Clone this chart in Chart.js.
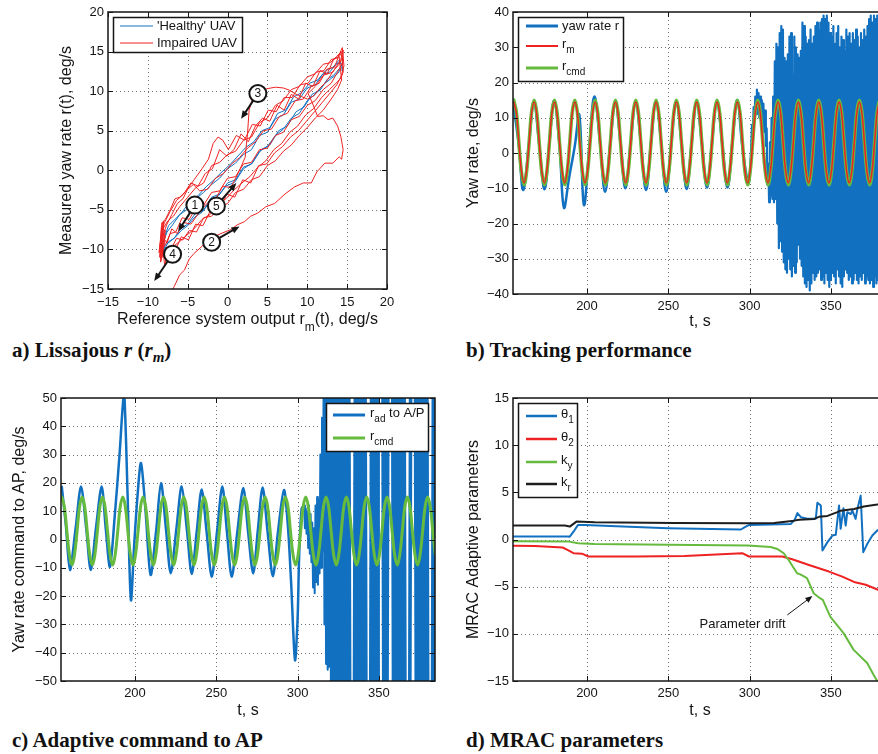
<!DOCTYPE html>
<html>
<head>
<meta charset="utf-8">
<title>Adaptive yaw control</title>
<script src="https://cdn.jsdelivr.net/npm/chart.js@4.4.1/dist/chart.umd.min.js"></script>
<style>
html,body{margin:0;padding:0;background:#fff;overflow:hidden}
#fig{position:relative;width:878px;height:754px;overflow:hidden;background:#fff}
#fig canvas{position:absolute}
.cap{position:absolute;font-family:"Liberation Serif","Times New Roman",serif;font-weight:bold;font-size:21px;line-height:21px;color:#111;white-space:nowrap}
.cap sub{font-size:15px;line-height:0}
</style>
</head>
<body>
<div id="fig">
<canvas id="ca" width="440" height="335" style="left:0;top:0"></canvas>
<canvas id="cb" width="460" height="335" style="left:440px;top:0"></canvas>
<canvas id="cc" width="440" height="345" style="left:0;top:380px"></canvas>
<canvas id="cd" width="460" height="345" style="left:440px;top:380px"></canvas>
<div class="cap" style="left:12px;top:340px">a) Lissajous <i>r</i> (<i>r<sub>m</sub></i>)</div>
<div class="cap" style="left:466px;top:340px">b) Tracking performance</div>
<div class="cap" style="left:12px;top:730px">c) Adaptive command to AP</div>
<div class="cap" style="left:466px;top:730px">d) MRAC parameters</div>
</div>

<script>
var SANS = '"Liberation Sans", Arial, Helvetica, sans-serif';
var INK = '#151515';
var BLUE = '#1270c0', RED = '#ee2222', GREEN = '#66bb3e', BLACK = '#1e1e1e';

// tick values
var lissTicks = [-15, -10, -5, 0, 5, 10, 15, 20];
var timeTicks = [200, 250, 300, 350];
var yawTicks = [-40, -30, -20, -10, 0, 10, 20, 30, 40];
var cmdTicks = [-50, -40, -30, -20, -10, 0, 10, 20, 30, 40, 50];
var parTicks = [-15, -10, -5, 0, 5, 10, 15];

// a) Lissajous: healthy loops
var healthyX = [
  -8.3,-7.8,-7.2,-6.5,-5.8,-5.0,-4.1,-3.2,-2.2,-1.2,-0.2,0.9,2.0,3.1,4.2,5.3,6.4,7.5,8.6,9.6,10.6,11.6,12.5,13.3,14.0,14.5,
  14.2,13.6,12.8,11.9,11.0,10.0,9.0,8.0,7.0,6.0,5.0,4.0,3.0,2.0,1.0,0.0,-1.0,-2.0,-3.0,-4.0,-5.0,-6.0,-6.9,-7.6,-8.1,
  -8.0,-7.4,-6.7,-5.9,-5.0,-4.0,-3.0,-2.0,-1.0,0.0,1.0,2.0,3.0,4.0,5.0,6.0,7.0,8.0,9.0,10.0,11.0,12.0,13.0,13.8,14.4,
  14.0,13.2,12.3,11.3,10.3,9.3,8.3,7.3,6.3,5.3,4.3,3.3,2.3,1.3,0.3,-0.7,-1.7,-2.7,-3.7,-4.7,-5.7,-6.6,-7.4,-8.0,-8.2];
var healthyY = [
  -10.6,-9.4,-9.0,-8.4,-7.6,-7.0,-5.9,-5.3,-4.0,-3.3,-2.0,-1.5,0.2,0.9,2.6,3.2,5.0,5.6,7.4,8.0,9.6,10.1,11.5,12.0,12.8,12.6,
  13.6,13.4,12.4,12.1,10.8,10.4,9.0,8.6,7.0,6.5,4.8,4.4,2.6,2.0,0.9,0.2,-1.0,-1.8,-2.8,-3.6,-4.9,-5.6,-6.9,-7.8,-9.2,
  -10.2,-9.0,-8.6,-7.4,-6.8,-5.4,-5.0,-3.4,-3.0,-1.6,-1.2,0.4,0.8,2.4,3.0,4.4,5.2,6.6,7.2,8.8,9.6,10.8,11.6,12.2,13.1,
  13.9,13.0,12.6,11.4,11.0,9.8,9.3,7.6,7.2,5.4,5.0,3.6,2.9,1.8,0.7,-0.2,-1.2,-2.1,-3.2,-3.9,-5.3,-6.2,-7.0,-8.6,-10.0];

// a) Lissajous: impaired loops, excursions and outer loop
var impairedX = [
  -8.4,-8.0,-7.5,-6.8,-6.0,-5.1,-4.2,-3.2,-2.2,-1.2,-0.2,0.8,1.8,2.8,3.8,4.8,5.8,6.8,7.8,8.8,9.8,10.8,11.8,12.8,13.6,14.2,14.5,
  14.3,13.7,12.9,12.0,11.0,10.0,9.0,8.0,7.0,6.0,5.0,4.0,3.0,2.0,1.0,0.0,-1.0,-2.0,-3.0,-4.0,-5.0,-6.0,-6.8,-7.5,-8.0,-8.3,
  -8.3,-8.5,-8.2,-8.6,-8.1,-8.4,-7.9,-8.3,
  -8.2,-7.9,-7.3,-6.6,-5.8,-4.9,-4.0,-3.1,-2.1,-1.1,-0.1,0.9,1.9,2.9,3.9,4.9,5.9,6.9,7.9,8.9,9.9,10.9,11.9,12.9,13.7,14.3,14.6,
  14.4,13.8,13.0,12.1,11.1,10.1,9.1,8.1,7.1,6.1,5.1,4.1,3.1,2.1,1.1,0.1,-0.6,-1.2,-1.8,-2.4,-3.2,-4.2,-5.2,-6.0,-6.6,-7.2,-7.8,-8.2,
  -8.4,-8.0,-8.5,-7.8,-8.3,
  -8.3,-8.0,-7.6,-7.0,-6.3,-5.5,-4.6,-3.6,-2.6,-1.6,-0.6,0.4,1.4,2.2,2.5,2.7,3.2,4.0,4.9,6.0,7.0,7.8,8.6,9.3,10.0,10.8,11.6,12.4,13.3,14.0,14.4,
  14.1,13.4,12.5,11.5,10.5,9.5,8.5,7.5,6.5,5.5,4.5,3.5,2.5,1.5,0.5,-0.5,-1.5,-2.5,-3.5,-4.3,-5.0,-5.6,-6.3,-7.0,-7.6,-8.2,
  -8.1,-7.7,-7.1,-6.4,-5.6,-4.8,-3.9,-3.0,-2.0,-1.0,0.0,1.0,2.0,3.0,4.0,5.0,6.0,7.0,8.0,9.0,10.0,11.0,12.0,13.0,13.8,14.3,
  14.0,13.3,12.5,11.6,10.7,9.8,8.9,8.0,7.1,6.2,5.3,4.4,3.5,2.6,1.7,0.8,-0.1,-1.0,-1.9,-2.8,-3.7,-4.6,-5.5,-6.4,-7.2,-7.9,
  -8.0,-8.4,-7.8,-8.2,
  -7.8,-7.2,-6.5,-5.7,-4.8,-3.9,-3.0,-2.0,-1.0,0.0,1.0,2.0,3.0,4.0,5.0,6.0,7.0,8.0,9.0,10.0,11.0,12.0,13.0,13.8,14.4,14.5,
  14.2,13.2,12.0,11.0,10.1,10.6,11.3,12.0,12.6,13.2,13.8,14.2,14.5,14.3,14.0,13.2,12.2,11.2,10.5,9.5,8.4,7.2,5.9,4.8,3.8,2.9,2.1,1.2,0.4,-0.6,-1.5,-2.5,-3.2,-4.2,-4.8,-5.4,-6.0,-6.7,-7.2];
var impairedY = [
  -11.5,-10.2,-10.8,-9.6,-9.0,-8.2,-7.4,-6.2,-5.6,-4.3,-3.6,-2.5,-1.6,-0.8,0.4,1.2,2.6,3.4,4.8,5.6,7.0,7.8,9.2,10.2,11.0,11.6,12.4,
  15.0,14.4,13.6,13.4,12.2,11.8,10.6,10.2,8.8,8.2,6.6,6.0,4.2,3.8,2.4,2.0,1.0,0.6,-1.6,-2.2,-3.4,-4.6,-5.8,-6.4,-7.2,-8.6,
  -7.2,-11.0,-6.6,-10.4,-8.0,-11.6,-9.0,-9.8,
  -9.0,-12.0,-9.6,-10.2,-8.4,-8.8,-6.8,-7.0,-5.0,-5.2,-3.0,-3.4,-1.2,-1.6,0.6,0.8,2.2,3.0,4.2,5.0,6.2,7.4,8.6,9.8,10.8,12.0,13.2,
  15.5,14.2,14.0,12.6,12.4,11.0,10.8,9.2,9.2,7.4,7.6,5.6,5.8,3.8,4.4,2.6,3.8,4.2,3.4,1.4,0.2,-1.2,-2.6,-3.4,-3.6,-5.0,-6.2,-6.6,
  -10.8,-6.4,-9.6,-7.6,-10.4,
  -10.0,-8.6,-9.2,-7.4,-8.0,-6.6,-6.8,-5.4,-4.2,-3.8,-2.0,-2.2,-0.2,1.6,4.6,7.6,9.3,10.2,10.3,10.5,10.4,10.1,9.6,9.3,9.0,9.4,10.4,11.2,12.6,13.4,14.2,
  14.8,13.0,12.8,11.0,10.6,9.0,8.8,7.2,6.8,5.2,5.0,3.6,2.8,1.6,0.8,-0.4,-1.0,-2.4,-2.6,-1.8,-2.4,-3.6,-4.2,-5.6,-6.8,-8.4,
  -11.0,-9.8,-10.0,-8.6,-8.8,-7.6,-7.8,-6.0,-5.8,-4.6,-4.2,-2.8,-2.4,-1.2,-0.8,0.6,1.2,2.4,3.2,4.4,5.4,6.6,7.6,9.0,10.2,11.4,
  14.4,14.0,12.2,12.6,10.6,11.0,9.0,9.6,7.6,8.2,6.2,6.6,5.6,3.6,4.6,2.6,1.8,2.6,0.2,-0.4,-2.0,-1.6,-3.0,-3.8,-5.2,-6.6,
  -6.8,-11.2,-8.2,-10.0,
  -9.4,-8.0,-7.8,-6.0,-6.2,-4.6,-4.4,-2.8,-2.6,-1.0,-0.8,0.8,1.0,2.6,2.8,4.4,4.8,6.4,6.8,8.2,8.8,10.2,11.0,12.4,13.6,15.2,
  14.0,12.4,12.0,10.6,9.7,8.6,6.8,6.9,6.4,6.6,5.6,4.3,2.6,1.4,1.7,0.9,0.9,-0.2,-1.6,-1.6,-2.1,-3.0,-4.2,-4.6,-5.4,-5.8,-6.5,-6.9,-7.5,-7.9,-8.3,-8.8,-9.6,-10.5,-11.2,-12.6,-13.2,-14.7,-15.6];

// a) numbered markers and where their arrows point
var markerText = ['1', '2', '3', '4', '5'];
var markerX = [-4.1, -2.0, 3.8, -6.9, -1.4];
var markerY = [-4.4, -9.1, 9.7, -10.6, -4.5];
var arrowX = [-6.2, 1.5, 1.7, -9.2, 1.1];
var arrowY = [-7.7, -7.1, 6.5, -14.0, -1.6];

// r_cmd / r_m sample times (s)
var cmdT = [
  155,156.6,158.1,159.7,161.3,162.8,164.4,165.9, 167.5,169.1,170.6,172.2,173.8,175.3,176.9,178.4,
  180,181.6,183.1,184.7,186.3,187.8,189.4,190.9, 192.5,194.1,195.6,197.2,198.8,200.3,201.9,203.4,
  205,206.6,208.1,209.7,211.3,212.8,214.4,215.9, 217.5,219.1,220.6,222.2,223.8,225.3,226.9,228.4,
  230,231.6,233.1,234.7,236.3,237.8,239.4,240.9, 242.5,244.1,245.6,247.2,248.8,250.3,251.9,253.4,
  255,256.6,258.1,259.7,261.3,262.8,264.4,265.9, 267.5,269.1,270.6,272.2,273.8,275.3,276.9,278.4,
  280,281.6,283.1,284.7,286.3,287.8,289.4,290.9, 292.5,294.1,295.6,297.2,298.8,300.3,301.9,303.4,
  305,306.6,308.1,309.7,311.3,312.8,314.4,315.9, 317.5,319.1,320.6,322.2,323.8,325.3,326.9,328.4,
  330,331.6,333.1,334.7,336.3,337.8,339.4,340.9, 342.5,344.1,345.6,347.2,348.8,350.3,351.9,353.4,
  355,356.6,358.1,359.7,361.3,362.8,364.4,365.9, 367.5,369.1,370.6,372.2,373.8,375.3,376.9,378.4,
  380,381.6,383.1,384.7];
var cmdV = [
  15,11.5,3,-5.5,-9,-5.5,3,11.5, 15,11.5,3,-5.5,-9,-5.5,3,11.5,
  15,11.5,3,-5.5,-9,-5.5,3,11.5, 15,11.5,3,-5.5,-9,-5.5,3,11.5,
  15,11.5,3,-5.5,-9,-5.5,3,11.5, 15,11.5,3,-5.5,-9,-5.5,3,11.5,
  15,11.5,3,-5.5,-9,-5.5,3,11.5, 15,11.5,3,-5.5,-9,-5.5,3,11.5,
  15,11.5,3,-5.5,-9,-5.5,3,11.5, 15,11.5,3,-5.5,-9,-5.5,3,11.5,
  15,11.5,3,-5.5,-9,-5.5,3,11.5, 15,11.5,3,-5.5,-9,-5.5,3,11.5,
  15,11.5,3,-5.5,-9,-5.5,3,11.5, 15,11.5,3,-5.5,-9,-5.5,3,11.5,
  15,11.5,3,-5.5,-9,-5.5,3,11.5, 15,11.5,3,-5.5,-9,-5.5,3,11.5,
  15,11.5,3,-5.5,-9,-5.5,3,11.5, 15,11.5,3,-5.5,-9,-5.5,3,11.5,
  15,11.5,3,-5.5];
var refV = [
  14.5,11.2,3,-5.2,-8.5,-5.2,3,11.2, 14.5,11.2,3,-5.2,-8.5,-5.2,3,11.2,
  14.5,11.2,3,-5.2,-8.5,-5.2,3,11.2, 14.5,11.2,3,-5.2,-8.5,-5.2,3,11.2,
  14.5,11.2,3,-5.2,-8.5,-5.2,3,11.2, 14.5,11.2,3,-5.2,-8.5,-5.2,3,11.2,
  14.5,11.2,3,-5.2,-8.5,-5.2,3,11.2, 14.5,11.2,3,-5.2,-8.5,-5.2,3,11.2,
  14.5,11.2,3,-5.2,-8.5,-5.2,3,11.2, 14.5,11.2,3,-5.2,-8.5,-5.2,3,11.2,
  14.5,11.2,3,-5.2,-8.5,-5.2,3,11.2, 14.5,11.2,3,-5.2,-8.5,-5.2,3,11.2,
  14.5,11.2,3,-5.2,-8.5,-5.2,3,11.2, 14.5,11.2,3,-5.2,-8.5,-5.2,3,11.2,
  14.5,11.2,3,-5.2,-8.5,-5.2,3,11.2, 14.5,11.2,3,-5.2,-8.5,-5.2,3,11.2,
  14.5,11.2,3,-5.2,-8.5,-5.2,3,11.2, 14.5,11.2,3,-5.2,-8.5,-5.2,3,11.2,
  14.5,11.2,3,-5.2];

// b) measured yaw rate r: smooth part, then 0.5 s samples from 300 s
var yawT = [155,158.1,160.8,164.4,167.3,170.6,173.9,176.9,179.8,183.1,185.8,189,192.5,195.3,198.1,201.5,204.5,208,211.1,214.4,
  217.4,220.6,223.6,226.9,229.9,233.1,236.3,239.4,242.4,245.6,248.7,251.9,254.9,258.1,261.3,264.4,267.4,270.6,273.8,276.9,
  279.9,283.1,286.4,289.4,292.4,295.5,298.8,300];
var yawV = [13,2,-10.5,3,14.5,2.5,-10.3,3,14.8,2,-15.5,-7,2,10.8,-14.7,2,16,3,-11,3,
  14.5,3,-10,3,14.5,3,-10.5,3,14.6,3,-11,3,14.8,3,-10.2,3,14.5,3,-9.8,3,
  14.7,3,-9.8,3,15,2,-8,-7.5];
var yawNoiseT0 = 300, yawNoiseDt = 0.5;
var yawNoise = [
  -7.5,-3,2,8,5,13,9,16,11,18, 12,17,10,16,9,15,8,14,6,12,
  2,7,-9,-3,-14,3,-12,10,-13,16, -14,26,-13,31,-20,30,-27,34,-25,36,
  -28,35,-31,27,-33,26,-34,28,-30,33, -33,34,-35,22,-32,33,-34,30,-31,28,
  -26,27,-30,29,-32,37,-35,36,-37,33, -38,31,-36,32,-39,35,-37,31,-34,33,
  -36,36,-35,37,-34,35,-33,37,-36,38, -35,39,-37,38,-34,39,-36,37,-38,34,
  -36,33,-34,36,-35,31,-37,34,-33,36, -35,30,-37,33,-38,32,-35,29,-33,35,
  -34,33,-36,34,-35,31,-37,34,-36,32, -34,35,-36,33,-37,30,-35,34,-36,32,
  -34,35,-37,33,-35,36,-36,38,-37,39, -36,37,-38,39,-35,38,-37,39,-36,38,
  -37,36,-35,37,-36,35,-34,36,-35,34];

// c) adaptive command r_ad: smooth part, then 0.5 s samples from 304 s (null = saturation gap)
var radT = [155,157.5,160,163.5,166.8,170,172.8,176,179.5,182,184.6,187.5,190.5,192.8,193.6,195.5,197.5,199.5,201.5,203.7,
  206.5,209.6,213,216,219,222,225.5,228.7,232,234.9,238,241,244,247.2,250.5,253.7,256.5,259.5,263,266.6,
  269.5,272.7,275.5,278.5,281.5,284.8,288,291.6,294,296,298.4,300,301,302.5,304];
var radV = [18.6,5,-10.8,4,18.7,4,-10.8,4,18.7,4,-9.7,8,30,49.5,49.5,15,-21.4,-2,15,27,
  10,-12.5,3,19.9,4,-11.9,4,18.7,3,-12.2,3,17.7,3,-13.2,3,18.7,3,-13.2,3,18.2,
  3,-12,3,18.4,3,-13,3,17.5,5,-15,-42.6,-28,-5,11,12];
var radNoiseT0 = 304, radNoiseDt = 0.5;
var radNoise = [
  12,4,11,2,10,-3,12,-5,9,-8, 6,-17,4,-19,12,-15,15,-16,14,-12,
  30,-10,43,-4,55,-30,55,-44,55,-46, 55,-45,55,-55,55,-55,55,-55,55,-55,
  55,-55,55,-55,55,-55,55,-55,55,-55, 55,-55,55,-55,55,-55,55,-55,null,null,
  null,-55,55,-55,55,-55,55,-55,55,-55, 55,-55,55,-55,55,-55,55,-55,null,null,
  null,-55,55,-55,55,-55,55,-55,55,-55, 55,-55,55,null,null,null,55,-55,55,-55,
  55,-55,55,-55,55,null,null,null,55,-55, 55,-55,55,-55,55,-55,55,-55,55,-55,
  55,-55,55,-55,55,-55,null,null,null,-55, 55,-55,55,null,null,null,55,-55,55,-55,
  55,-55,55,-55,55,-55,55,-55,55,-55, 55,-55,55,-55,null,null,null,-55,55,-55,
  55,-55,55];

// d) MRAC parameters
var theta1T = [154.5,188.3,189.4,192.4,194.5,198.6,249.7,294.7,297.1,299.8,325.4,327.8,329.4,331.5,335.6,340.7,341.7,343.8,344.8,347.9,
  350.9,353,355,356,357.7,359.1,360.1,362.2,363.2,365.2,366.3,368.3,369.9,372.4,375.5,378.5,381.5,384.5];
var theta1V = [0.32,0.32,0.3,1.0,1.55,1.55,1.2,1.06,1.3,1.55,1.65,2.1,2.8,2.36,2.2,2.2,3.9,3.6,-1.16,-0.28,
  0.42,0.5,3.6,1.13,3.31,1.48,2.9,2.7,3.06,2.18,3.24,4.65,-1.34,-0.46,0.42,0.95,1.3,1.6];
var theta2T = [154.5,168,185,188,191.7,196.9,200.9,230,260,295.5,299.6,320.1,326.2,336.5,348.8,357,364.2,371.4,379.4,384.5];
var theta2V = [-0.65,-0.7,-0.85,-1.1,-1.45,-1.5,-1.8,-1.8,-1.75,-1.45,-1.8,-1.8,-2.1,-2.7,-3.4,-3.94,-4.5,-4.8,-5.35,-5.6];
var kyT = [154.5,188.3,194.5,204.7,250,298.8,313,317,321,324.1,329.2,331.2,335.3,339.4,343.5,345,349.7,357.9,364,372.3,376.4,378.5,384.5];
var kyV = [-0.18,-0.2,-0.4,-0.49,-0.55,-0.63,-0.8,-1.0,-1.46,-2.2,-3.58,-3.7,-4.1,-5.7,-6.25,-6.4,-8.2,-9.95,-11.7,-13.1,-14.4,-15,-17];
var krT = [154.5,186.3,189.4,193.5,204.7,253.8,298.8,315.1,327.4,330.5,339.7,342.7,347.9,354,356,364.2,370.3,378.5,384.5];
var krV = [1.48,1.48,1.37,1.9,1.83,1.76,1.72,1.76,2.0,2.1,2.18,2.4,2.5,2.9,3.06,3.24,3.5,3.7,3.9];
var driftLabel = 'Parameter drift';
var driftAt = [295.7, -9.0];
var driftFrom = [323.2, -8.0], driftTo = [338.6, -6.0];

function fmt(v) { return v < 0 ? '\u2212' + (-v) : String(v); }
function xy(xs, ys) { return xs.map(function (x, i) { return { x: x, y: ys[i] }; }); }
function sampled(t0, dt, ys) { return ys.map(function (y, i) { return { x: t0 + i * dt, y: y }; }); }
function line(data, color, width, tension) {
  return { data: data, borderColor: color, borderWidth: width, tension: tension || 0, pointRadius: 0,
    fill: false, borderJoinStyle: 'round', borderCapStyle: 'round' };
}

function arrow(ctx, x0, y0, x1, y1, w, head) {
  var a = Math.atan2(y1 - y0, x1 - x0), c = Math.cos(a), s = Math.sin(a);
  ctx.lineWidth = w;
  ctx.beginPath(); ctx.moveTo(x0, y0); ctx.lineTo(x1 - c * head * 0.7, y1 - s * head * 0.7); ctx.stroke();
  ctx.beginPath(); ctx.moveTo(x1, y1);
  ctx.lineTo(x1 - head * c + head * 0.42 * s, y1 - head * s - head * 0.42 * c);
  ctx.lineTo(x1 - head * c - head * 0.42 * s, y1 - head * s + head * 0.42 * c);
  ctx.closePath(); ctx.fill();
}

// text pieces: [text, isSubscript]
function richText(ctx, x, y, parts, size) {
  var hasSub = parts.some(function (p) { return p[1]; });
  parts.forEach(function (p) {
    ctx.font = (p[1] ? Math.round(size * 0.77) : size) + 'px ' + SANS;
    ctx.fillText(p[0], x, p[1] ? y + size * 0.36 : (hasSub ? y - 2 : y));
    x += ctx.measureText(p[0]).width;
  });
  return x;
}
function textWidth(ctx, parts, size) {
  var w = 0;
  parts.forEach(function (p) { ctx.font = (p[1] ? Math.round(size * 0.77) : size) + 'px ' + SANS; w += ctx.measureText(p[0]).width; });
  return w;
}

function drawLegend(ctx, lg) {
  var b = lg.box;
  ctx.fillStyle = '#fff'; ctx.fillRect(b[0], b[1], b[2], b[3]);
  ctx.strokeStyle = INK; ctx.lineWidth = 1.5; ctx.setLineDash([]);
  ctx.strokeRect(b[0] + 0.5, b[1] + 0.5, b[2], b[3]);
  lg.items.forEach(function (it, i) {
    var y = lg.rows[i];
    ctx.strokeStyle = it.c; ctx.lineWidth = it.w;
    ctx.beginPath(); ctx.moveTo(lg.line[0], y); ctx.lineTo(lg.line[1], y); ctx.stroke();
    ctx.fillStyle = INK; ctx.textBaseline = 'middle'; ctx.textAlign = 'left';
    richText(ctx, lg.tx, y, it.parts, 13);
  });
}

function framePlugin(cfg) {
  return {
    id: 'frame',
    beforeDatasetsDraw: function (chart) {
      var ctx = chart.ctx, a = chart.chartArea, sx = chart.scales.x, sy = chart.scales.y;
      ctx.save();
      ctx.strokeStyle = '#707070'; ctx.lineWidth = 1; ctx.setLineDash([1, 3]);
      ctx.beginPath();
      cfg.xTicks.forEach(function (v) {
        var p = Math.round(sx.getPixelForValue(v)) + 0.5;
        if (p > a.left + 2 && p < a.right - 2) { ctx.moveTo(p, a.top); ctx.lineTo(p, a.bottom); }
      });
      cfg.yTicks.forEach(function (v) {
        var p = Math.round(sy.getPixelForValue(v)) + 0.5;
        if (p > a.top + 2 && p < a.bottom - 2) { ctx.moveTo(a.left, p); ctx.lineTo(a.right, p); }
      });
      ctx.stroke();
      ctx.restore();
    },
    afterDatasetsDraw: function (chart) {
      var ctx = chart.ctx, a = chart.chartArea, sx = chart.scales.x, sy = chart.scales.y;
      ctx.save();
      ctx.setLineDash([]);
      ctx.strokeStyle = INK; ctx.lineWidth = 1.5;
      ctx.strokeRect(a.left, a.top, a.right - a.left, a.bottom - a.top);
      ctx.lineWidth = 1;
      ctx.beginPath();
      cfg.xTicks.forEach(function (v) {
        var p = Math.round(sx.getPixelForValue(v)) + 0.5;
        ctx.moveTo(p, a.bottom); ctx.lineTo(p, a.bottom - 5);
        ctx.moveTo(p, a.top); ctx.lineTo(p, a.top + 5);
      });
      cfg.yTicks.forEach(function (v) {
        var p = Math.round(sy.getPixelForValue(v)) + 0.5;
        ctx.moveTo(a.left, p); ctx.lineTo(a.left + 5, p);
        ctx.moveTo(a.right, p); ctx.lineTo(a.right - 5, p);
      });
      ctx.stroke();
      if (cfg.extra) cfg.extra(chart, ctx);
      if (cfg.legend) drawLegend(ctx, cfg.legend);
      ctx.restore();
    }
  };
}

function makeChart(id, cfg) {
  return new Chart(document.getElementById(id), {
    type: 'line',
    data: { datasets: cfg.datasets },
    options: {
      responsive: false, animation: false, devicePixelRatio: 1, events: [],
      layout: { padding: cfg.pad },
      plugins: { legend: { display: false }, tooltip: { enabled: false } },
      scales: {
        x: {
          type: 'linear', min: cfg.xr[0], max: cfg.xr[1],
          grid: { display: false, drawTicks: false }, border: { display: false },
          afterBuildTicks: function (s) { s.ticks = cfg.xTicks.map(function (v) { return { value: v }; }); },
          afterFit: function (s) { s.height = cfg.xh; },
          ticks: { padding: cfg.xtp, autoSkip: false, maxRotation: 0, color: INK, font: { family: SANS, size: 13 }, callback: fmt },
          title: cfg.xTitle ? { display: true, text: cfg.xTitle, color: INK, font: { family: SANS, size: 16 }, padding: { top: 0, bottom: cfg.xTitlePad } } : { display: false }
        },
        y: {
          type: 'linear', min: cfg.yr[0], max: cfg.yr[1],
          grid: { display: false, drawTicks: false }, border: { display: false },
          afterBuildTicks: function (s) { s.ticks = cfg.yTicks.map(function (v) { return { value: v }; }); },
          afterFit: function (s) { s.width = cfg.yw; },
          ticks: { padding: 4, autoSkip: false, color: INK, font: { family: SANS, size: 13 }, callback: fmt },
          title: { display: true, text: cfg.yTitle, color: INK, font: { family: SANS, size: 16 }, padding: 0 }
        }
      }
    },
    plugins: [framePlugin(cfg)]
  });
}

// a) Lissajous
makeChart('ca', {
  datasets: [line(xy(impairedX, impairedY), RED, 1), line(xy(healthyX, healthyY), BLUE, 1)],
  xr: [-15, 20], yr: [-15, 20], xTicks: lissTicks, yTicks: lissTicks,
  pad: { left: 57, top: 12, right: 53, bottom: 0 }, yw: 51, xh: 46, xtp: 6,
  yTitle: 'Measured yaw rate r(t), deg/s',
  legend: { box: [113, 17, 129, 35], line: [120, 153], tx: 157, rows: [26, 43],
    items: [{ c: BLUE, w: 1, parts: [["'Healthy' UAV"]] }, { c: RED, w: 1, parts: [['Impaired UAV']] }] },
  extra: function (chart, ctx) {
    var sx = chart.scales.x, sy = chart.scales.y, a = chart.chartArea;
    markerText.forEach(function (t, i) {
      var cx = sx.getPixelForValue(markerX[i]), cy = sy.getPixelForValue(markerY[i]);
      var hx = sx.getPixelForValue(arrowX[i]), hy = sy.getPixelForValue(arrowY[i]);
      var ang = Math.atan2(hy - cy, hx - cx);
      ctx.strokeStyle = INK; ctx.fillStyle = INK;
      arrow(ctx, cx + 8 * Math.cos(ang), cy + 8 * Math.sin(ang), hx, hy, 2, 8);
      ctx.beginPath(); ctx.arc(cx, cy, 8.5, 0, Math.PI * 2);
      ctx.fillStyle = '#fff'; ctx.fill(); ctx.lineWidth = 2; ctx.strokeStyle = INK; ctx.stroke();
      ctx.fillStyle = INK; ctx.font = '12px ' + SANS; ctx.textAlign = 'center'; ctx.textBaseline = 'middle';
      ctx.fillText(t, cx, cy + 0.5);
    });
    // x-axis title with subscript
    var parts = [['Reference system output r'], ['m', 1], ['(t), deg/s']];
    ctx.textAlign = 'left'; ctx.textBaseline = 'middle'; ctx.fillStyle = INK;
    var w = textWidth(ctx, parts, 16);
    richText(ctx, (a.left + a.right) / 2 - w / 2, 322, parts, 16);
  }
});

// b) Tracking performance
makeChart('cb', {
  datasets: [
    line(xy(cmdT, refV), RED, 1.5, 0.4),
    line(xy(cmdT, cmdV), GREEN, 3.5, 0.4),
    line(xy(yawT, yawV), BLUE, 2.5, 0.4),
    line(sampled(yawNoiseT0, yawNoiseDt, yawNoise), BLUE, 2.2, 0)
  ],
  xr: [154.5, 384.5], yr: [-40, 40], xTicks: timeTicks, yTicks: yawTicks,
  pad: { left: 24, top: 12, right: 13, bottom: 0 }, yw: 49, xh: 41, xtp: 5,
  xTitle: 't, s', xTitlePad: 4, yTitle: 'Yaw rate, deg/s',
  legend: { box: [78, 17, 105, 64], line: [86, 118], tx: 122, rows: [26, 46, 68],
    items: [{ c: BLUE, w: 3, parts: [['yaw rate r']] }, { c: RED, w: 2, parts: [['r'], ['m', 1]] }, { c: GREEN, w: 3, parts: [['r'], ['cmd', 1]] }] }
});

// c) Adaptive command to AP
makeChart('cc', {
  datasets: [
    line(xy(cmdT, cmdV), GREEN, 3, 0.4),
    line(xy(radT, radV), BLUE, 2.5, 0.3),
    line(sampled(radNoiseT0, radNoiseDt, radNoise), BLUE, 2, 0)
  ],
  xr: [154.5, 384.5], yr: [-50, 50], xTicks: timeTicks, yTicks: cmdTicks,
  pad: { left: 10, top: 18, right: 5, bottom: 0 }, yw: 51, xh: 44, xtp: 5,
  xTitle: 't, s', xTitlePad: 5, yTitle: 'Yaw rate command to AP, deg/s',
  legend: { box: [326, 23, 102, 48], line: [333, 365], tx: 370, rows: [35, 58],
    items: [{ c: BLUE, w: 3, parts: [['r'], ['ad', 1], [' to A/P']] }, { c: GREEN, w: 3, parts: [['r'], ['cmd', 1]] }] }
});

// d) MRAC parameters
makeChart('cd', {
  datasets: [
    line(xy(krT, krV), BLACK, 2),
    line(xy(kyT, kyV), GREEN, 2),
    line(xy(theta2T, theta2V), RED, 2),
    line(xy(theta1T, theta1V), BLUE, 2)
  ],
  xr: [154.5, 384.5], yr: [-15, 15], xTicks: timeTicks, yTicks: parTicks,
  pad: { left: 24, top: 18, right: 13, bottom: 0 }, yw: 49, xh: 44, xtp: 5,
  xTitle: 't, s', xTitlePad: 5, yTitle: 'MRAC Adaptive parameters',
  legend: { box: [78, 23, 59, 94], line: [86, 117], tx: 121, rows: [36, 59, 82, 104],
    items: [{ c: BLUE, w: 2.5, parts: [['\u03b8'], ['1', 1]] }, { c: RED, w: 2.5, parts: [['\u03b8'], ['2', 1]] },
            { c: GREEN, w: 2.5, parts: [['k'], ['y', 1]] }, { c: BLACK, w: 2.5, parts: [['k'], ['r', 1]] }] },
  extra: function (chart, ctx) {
    var sx = chart.scales.x, sy = chart.scales.y;
    ctx.fillStyle = INK; ctx.strokeStyle = INK;
    ctx.font = '13px ' + SANS; ctx.textAlign = 'center'; ctx.textBaseline = 'middle';
    ctx.fillText(driftLabel, sx.getPixelForValue(driftAt[0]), sy.getPixelForValue(driftAt[1]));
    arrow(ctx, sx.getPixelForValue(driftFrom[0]), sy.getPixelForValue(driftFrom[1]),
      sx.getPixelForValue(driftTo[0]), sy.getPixelForValue(driftTo[1]), 1, 7);
  }
});
</script>
</body>
</html>
